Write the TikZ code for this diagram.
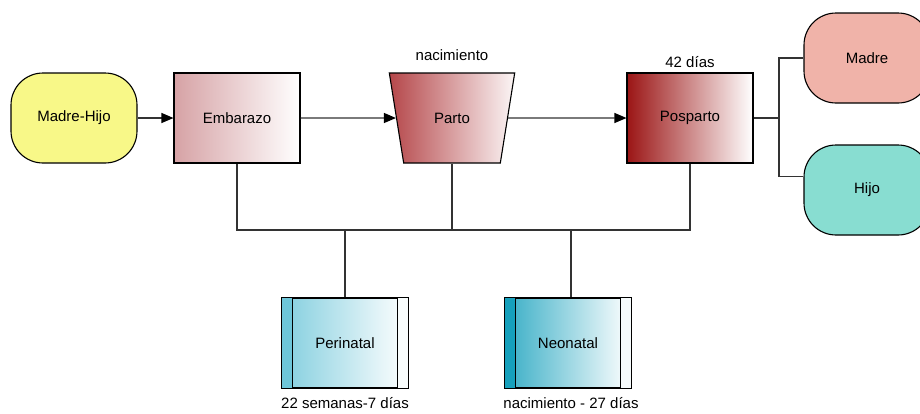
\documentclass[tikz,border=0pt]{standalone}
\usepackage{fontspec}
\setmainfont{Liberation Sans}
\usetikzlibrary{arrows.meta,shapes.geometric,positioning}

\definecolor{amarillo}{HTML}{F8F888}
\definecolor{rosado}{HTML}{D6A2A5}
\definecolor{granate}{HTML}{B5474A}
\definecolor{vino}{HTML}{9B1515}
\definecolor{salmon}{HTML}{F0B3A9}
\definecolor{aguamarina}{HTML}{88DDD1}
\definecolor{celeste}{HTML}{6EC6D9}
\definecolor{turquesa}{HTML}{16A0BC}
\definecolor{linea}{HTML}{333333}

\tikzset{
  caja/.style={draw=black, line width=1.1pt, minimum width=126pt, minimum height=90pt,
    inner sep=0pt, font=\fontsize{15}{18}\selectfont},
  terminal/.style={caja, rounded corners=32pt},
  proceso/.style={caja, left color=#1, right color=white},
  manual/.style={caja, shape=trapezium, trapezium angle=63, trapezium stretches=true,
    shape border rotate=180, left color=#1, right color=white!95!granate},
  subproceso/.style={caja, left color=#1!85!white, right color=white},
  nota/.style={font=\fontsize{15}{18}\selectfont, inner sep=0pt},
  linea/.style={draw=linea, line width=1.1pt},
  flecha/.style={linea, -{Triangle[length=12pt,width=10pt,color=black]}}
}

\begin{document}
\begin{tikzpicture}[x=1pt, y=-1pt]
\useasboundingbox (0,0) rectangle (920,413);

% fila principal
\node[terminal, fill=amarillo] (madrehijo) at (74,118) {Madre-Hijo};
\node[proceso=rosado] (embarazo) at (237,118) {Embarazo};
\node[manual=granate] (parto) at (452,118) {Parto};
\node[proceso=vino] (posparto) at (690,118) {Posparto};

% etiquetas de arriba
\node[nota] (nacimiento) at (452,55) {nacimiento};
\node[nota] (dias) at (690,62) {42 días};

% ramas de la derecha
\node[terminal, fill=salmon] (madre) at (867,58) {Madre};
\node[terminal, fill=aguamarina] (hijo) at (867,190) {Hijo};

% periodos
\node[subproceso=celeste] (perinatal) at (345,343) {Perinatal};
\node[subproceso=turquesa] (neonatal) at (568,343) {Neonatal};
\foreach \n/\c in {perinatal/celeste, neonatal/turquesa} {
  \fill[\c] ([xshift=0.6pt,yshift=-0.6pt]\n.north west) rectangle ([xshift=11pt,yshift=0.6pt]\n.south west);
  \fill[white!96!\c] ([xshift=-11pt,yshift=-0.6pt]\n.north east) rectangle ([xshift=-0.6pt,yshift=0.6pt]\n.south east);
  \draw[black, line width=1.1pt] ([xshift=11pt]\n.north west) -- ([xshift=11pt]\n.south west);
  \draw[black, line width=1.1pt] ([xshift=-11pt]\n.north east) -- ([xshift=-11pt]\n.south east);
  \draw[black, line width=1.1pt] (\n.north west) rectangle (\n.south east);
}
\node[nota] (semanas) at (345,403) {22 semanas-7 días};
\node[nota] (rango) at (571,403) {nacimiento - 27 días};

% conectores
\draw[flecha] (madrehijo.east) -- (embarazo.west);
\draw[flecha] (embarazo.east) -- (parto.west);
\draw[flecha] (parto.east) -- (posparto.west);

\coordinate (rama) at (779,118);
\draw[linea] (posparto.east) -- (rama);
\draw[linea] (madre.west) -| (rama) |- (hijo.168);

\coordinate (busizq) at (237,230);
\coordinate (busder) at (690,230);
\draw[linea] (embarazo.south) -- (busizq) -- (busder) -- (posparto.south);
\draw[linea] (parto.south) -- (parto.south |- busizq);
\draw[linea] (perinatal.north) -- (perinatal.north |- busizq);
\draw[linea] ([xshift=3pt]neonatal.north) -- ([xshift=3pt]neonatal.north |- busizq);

\end{tikzpicture}
\end{document}
